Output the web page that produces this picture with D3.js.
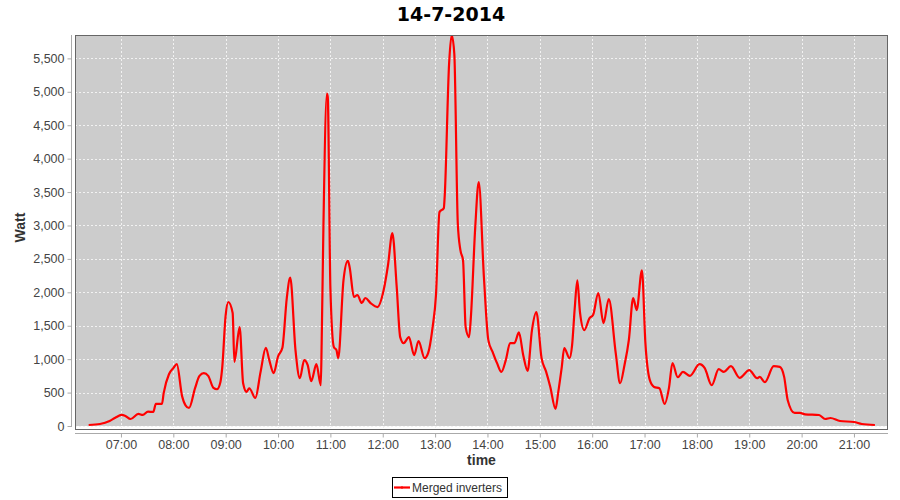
<!DOCTYPE html>
<html>
<head>
<meta charset="utf-8">
<script src="https://cdn.jsdelivr.net/npm/d3@7"></script>
<style>
  html, body { margin: 0; padding: 0; background: #fff; }
  svg { display: block; }
  text { font-family: "Liberation Sans", Arial, sans-serif; }
</style>
</head>
<body>
<svg id="chart" width="900" height="500"></svg>
<script>
const title = "14-7-2014";
const seriesName = "Merged inverters";
const xLabel = "time";
const yLabel = "Watt";

const times = ["06:23","06:36","06:47","06:53","07:01","07:05","07:11","07:20","07:25","07:31","07:37","07:40","07:47","07:49","07:55","08:00","08:04","08:10","08:14","08:18","08:25","08:30","08:35","08:40","08:46","08:50","08:54","08:56","09:00","09:03","09:08","09:10","09:16","09:20","09:24","09:27","09:34","09:40","09:46","09:50","09:55","10:00","10:05","10:10","10:14","10:20","10:25","10:30","10:34","10:38","10:44","10:49","10:50","10:52","10:56","10:57","11:00","11:04","11:07","11:09","11:15","11:20","11:22","11:27","11:31","11:36","11:40","11:46","11:54","12:01","12:06","12:11","12:16","12:20","12:24","12:30","12:36","12:41","12:48","12:52","12:57","13:01","13:05","13:10","13:11","13:16","13:19","13:22","13:26","13:29","13:32","13:35","13:39","13:41","13:46","13:50","13:56","14:01","14:06","14:11","14:16","14:21","14:26","14:31","14:36","14:41","14:46","14:51","14:56","15:02","15:07","15:12","15:18","15:21","15:25","15:28","15:34","15:37","15:40","15:43","15:46","15:51","15:57","16:01","16:07","16:13","16:19","16:27","16:32","16:37","16:42","16:47","16:51","16:57","17:01","17:06","17:11","17:17","17:23","17:28","17:32","17:38","17:44","17:52","18:03","18:09","18:17","18:25","18:31","18:39","18:49","19:00","19:09","19:12","19:18","19:28","19:35","19:40","19:44","19:52","19:58","20:04","20:20","20:27","20:33","20:44","21:00","21:09","21:24"];

const watts = [15,30,75,120,165,150,105,180,165,215,210,330,330,495,775,865,925,450,310,270,570,750,790,750,570,550,660,865,1660,1855,1690,960,1480,640,510,565,420,810,1170,985,790,1040,1170,1910,2220,1135,715,985,910,670,925,610,1240,2975,4975,4920,2065,1180,1135,1015,2180,2470,2380,1930,1960,1840,1915,1840,1780,2030,2405,2885,2080,1330,1240,1330,1060,1270,1015,1090,1465,1960,3200,3260,3440,5410,5850,5570,3030,2630,2480,1480,1330,1630,2975,3650,2210,1285,1105,940,810,985,1240,1240,1400,1060,825,1435,1705,1015,820,585,255,495,865,1165,1015,1210,1760,2180,1705,1435,1615,1660,1990,1540,1900,1090,640,910,1285,1915,1735,2330,1240,690,585,565,330,570,940,730,810,750,925,865,610,850,810,895,720,835,715,735,655,895,885,735,390,195,195,175,165,105,120,75,60,30,15];

const yTicks = [0,500,1000,1500,2000,2500,3000,3500,4000,4500,5000,5500];
const xTickLabels = ["07:00","08:00","09:00","10:00","11:00","12:00","13:00","14:00","15:00","16:00","17:00","18:00","19:00","20:00","21:00"];

const parse = d3.timeParse("%H:%M");
const data = times.map((t, i) => ({ t: parse(t), v: watts[i] }));

const svg = d3.select("#chart");
const L = 75, R = 888, T = 35, B = 426;

const x = d3.scaleTime()
  .domain([d3.timeParse("%H:%M:%S")("06:07:20"), d3.timeParse("%H:%M:%S")("21:39:00")])
  .range([L, R]);
const y = d3.scaleLinear().domain([0, 5850]).range([B, T]);

const xTicks = xTickLabels.map(parse);

// plot background
svg.append("rect").attr("x", L).attr("y", T).attr("width", R - L).attr("height", B - T)
  .attr("fill", "#cccccc");

// grid
const grid = svg.append("g").attr("stroke", "#f2f2f2").attr("stroke-width", 1)
  .attr("stroke-dasharray", "2,2");
grid.selectAll("line.h").data(yTicks).join("line")
  .attr("x1", L).attr("x2", R)
  .attr("y1", d => Math.round(y(d)) + 0.5).attr("y2", d => Math.round(y(d)) + 0.5);
grid.selectAll("line.v").data(xTicks).join("line")
  .attr("y1", T).attr("y2", B + 2)
  .attr("x1", d => Math.round(x(d)) + 0.5).attr("x2", d => Math.round(x(d)) + 0.5);

// clip
svg.append("clipPath").attr("id", "clip").append("rect")
  .attr("x", L).attr("y", T).attr("width", R - L).attr("height", B + 4 - T);

const line = d3.line().x(d => x(d.t)).y(d => y(d.v)).curve(d3.curveMonotoneX);
svg.append("path").datum(data).attr("clip-path", "url(#clip)")
  .attr("d", line).attr("fill", "none").attr("stroke", "#ff0000")
  .attr("stroke-width", 2.2).attr("stroke-linejoin", "round");

// plot border
svg.append("rect").attr("x", L + 0.5).attr("y", T + 0.5).attr("width", R - L - 1).attr("height", B + 4 - T - 1)
  .attr("fill", "none").attr("stroke", "#666666").attr("stroke-width", 1);

// y axis
const yAxis = d3.axisLeft(y).tickValues(yTicks).tickFormat(d3.format(",")).tickSize(4).tickPadding(3);
const gy = svg.append("g").attr("transform", "translate(71.5,0)").call(yAxis);
gy.select(".domain").attr("stroke", "#aaaaaa").attr("d", `M0,${T}V${B + 1}`);
gy.selectAll(".tick line").attr("stroke", "#aaaaaa");
gy.selectAll(".tick text").attr("fill", "#444444").style("font-size", "12.5px")
  .style("font-family", "Liberation Sans");

// x axis
const xAxis = d3.axisBottom(x).tickValues(xTicks).tickFormat(d3.timeFormat("%H:%M")).tickSize(4).tickPadding(3);
const gx = svg.append("g").attr("transform", "translate(0,433.5)").call(xAxis);
gx.select(".domain").attr("stroke", "#aaaaaa").attr("d", `M${L},0H${R}`);
gx.selectAll(".tick line").attr("stroke", "#aaaaaa");
gx.selectAll(".tick text").attr("fill", "#444444").style("font-size", "12.5px")
  .style("font-family", "Liberation Sans");

// title
svg.append("text").attr("x", 451).attr("y", 21).attr("text-anchor", "middle")
  .style("font-family", "DejaVu Sans")
  .style("font-size", "19px").style("font-weight", "bold").attr("fill", "#000")
  .text(title);

// axis labels
svg.append("text").attr("x", (L + R) / 2).attr("y", 465).attr("text-anchor", "middle")
  .style("font-size", "14px").style("font-weight", "bold").attr("fill", "#333")
  .text(xLabel);
svg.append("text").attr("transform", `translate(25,${(T + B) / 2 - 3}) rotate(-90)`)
  .attr("text-anchor", "middle")
  .style("font-size", "14px").style("font-weight", "bold").attr("fill", "#333")
  .text(yLabel);

// legend
const lg = svg.append("g");
lg.append("rect").attr("x", 392.5).attr("y", 477.5).attr("width", 115).attr("height", 20)
  .attr("fill", "#fff").attr("stroke", "#000").attr("stroke-width", 1);
lg.append("line").attr("x1", 394).attr("x2", 410).attr("y1", 487.5).attr("y2", 487.5)
  .attr("stroke", "#ff0000").attr("stroke-width", 2.2);
lg.append("rect").attr("x", 401).attr("y", 486.5).attr("width", 2).attr("height", 2).attr("fill", "#ff0000");
lg.append("text").attr("x", 412).attr("y", 492).style("font-size", "12px").attr("fill", "#333")
  .text(seriesName);
</script>
</body>
</html>
